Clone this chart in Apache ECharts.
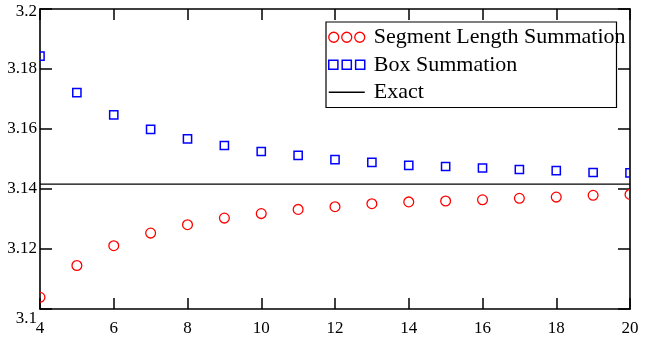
<!DOCTYPE html>
<html>
<head>
<meta charset="utf-8">
<script src="https://cdn.jsdelivr.net/npm/echarts@6/dist/echarts.min.js"></script>
<style>
html,body{margin:0;padding:0;background:#fff;}
#chart{width:655px;height:339px;}
</style>
</head>
<body>
<div id="chart"></div>
<script>
var nValues = [4, 5, 6, 7, 8, 9, 10, 11, 12, 13, 14, 15, 16, 17, 18, 19, 20];
var segmentValues = [3.1039, 3.1145, 3.1211, 3.1253, 3.1281, 3.1303, 3.1318, 3.1332, 3.1341, 3.1351, 3.1357, 3.1360, 3.1364, 3.1369, 3.1373, 3.1379, 3.1382];
var boxValues = [3.1843, 3.1721, 3.1647, 3.1599, 3.1567, 3.1545, 3.1525, 3.1512, 3.1498, 3.1489, 3.1479, 3.1475, 3.1470, 3.1465, 3.1461, 3.1455, 3.1454];
var exactValue = Math.PI;
var xTicks = [4, 6, 8, 10, 12, 14, 16, 18, 20];
var yTicks = [3.1, 3.12, 3.14, 3.16, 3.18, 3.2];
var seriesNames = ['Segment Length Summation', 'Box Summation', 'Exact'];

var segData = nValues.map(function (n, i) { return [n, segmentValues[i]]; });
var boxData = nValues.map(function (n, i) { return [n, boxValues[i]]; });
var exactData = [[nValues[0], exactValue], [nValues[nValues.length - 1], exactValue]];

var serif = '"Liberation Serif", "DejaVu Serif", serif';
var circlesIcon = 'path://M0,5.5a5,5 0 1,0 10,0a5,5 0 1,0 -10,0M13,5.5a5,5 0 1,0 10,0a5,5 0 1,0 -10,0M26,5.5a5,5 0 1,0 10,0a5,5 0 1,0 -10,0';
var squaresIcon = 'path://M1,1h8.5v8.5h-8.5zM13.5,1h8.5v8.5h-8.5zM26,1h8.5v8.5h-8.5z';
var lineIcon = 'path://M0,0h36v1.3h-36z';

var axisLineStyle = { color: '#000', width: 1.6 };

var chart = echarts.init(document.getElementById('chart'), null, { renderer: 'canvas' });
chart.setOption({
  animation: false,
  backgroundColor: '#fff',
  grid: { left: 40, right: 25, top: 9, bottom: 30, containLabel: false },
  legend: {
    orient: 'vertical',
    left: 326,
    top: 22,
    padding: [4, -9, 4, 2],
    itemGap: 5,
    itemWidth: 36,
    itemHeight: 11,
    backgroundColor: '#fff',
    borderColor: '#000',
    borderWidth: 1.2,
    borderRadius: 0,
    textStyle: { fontFamily: serif, fontSize: 22, color: '#000', padding: [0, 0, 0, 4], lineHeight: 22.5 },
    data: [
      { name: seriesNames[0], icon: circlesIcon, itemStyle: { color: 'rgba(0,0,0,0)', borderColor: '#ff0000', borderWidth: 1.3 } },
      { name: seriesNames[1], icon: squaresIcon, itemStyle: { color: 'rgba(0,0,0,0)', borderColor: '#0000ff', borderWidth: 1.5 } },
      { name: seriesNames[2], icon: lineIcon, itemStyle: { color: '#000', borderWidth: 0 } }
    ]
  },
  xAxis: [
    {
      type: 'value', min: 4, max: 20, interval: 2, position: 'bottom',
      axisLine: { show: true, onZero: false, lineStyle: axisLineStyle },
      axisTick: { show: true, inside: true, length: 11, lineStyle: { color: '#000', width: 1.5 } },
      axisLabel: { show: true, margin: 11, fontFamily: serif, fontSize: 17, color: '#000' },
      splitLine: { show: false }
    },
    {
      type: 'value', min: 4, max: 20, interval: 2, position: 'top',
      axisLine: { show: true, onZero: false, lineStyle: axisLineStyle },
      axisTick: { show: true, inside: true, length: 11, lineStyle: { color: '#000', width: 1.5 } },
      axisLabel: { show: false },
      splitLine: { show: false }
    }
  ],
  yAxis: [
    {
      type: 'value', min: 3.1, max: 3.2, interval: 0.02, position: 'left',
      axisLine: { show: true, onZero: false, lineStyle: axisLineStyle },
      axisTick: { show: true, inside: true, length: 12, lineStyle: { color: '#000', width: 1.5 } },
      axisLabel: {
        show: true, margin: 3, fontFamily: serif, fontSize: 17, color: '#000',
        formatter: function (v) {
          var s = String(+v.toFixed(2));
          if (Math.abs(v - yTicks[0]) < 1e-9) return '{low|' + s + '}';
          if (Math.abs(v - yTicks[yTicks.length - 1]) < 1e-9) return '{high|' + s + '}';
          return s;
        },
        rich: {
          low: { fontFamily: serif, fontSize: 17, color: '#000', padding: [19, 0, 0, 0] },
          high: { fontFamily: serif, fontSize: 17, color: '#000', padding: [5, 0, 0, 0] }
        }
      },
      splitLine: { show: false }
    },
    {
      type: 'value', min: 3.1, max: 3.2, interval: 0.02, position: 'right',
      axisLine: { show: true, onZero: false, lineStyle: axisLineStyle },
      axisTick: { show: true, inside: true, length: 12, lineStyle: { color: '#000', width: 1.5 } },
      axisLabel: { show: false },
      splitLine: { show: false }
    }
  ],
  series: [
    {
      name: seriesNames[2],
      type: 'line',
      data: exactData,
      symbol: 'none',
      lineStyle: { color: '#000', width: 1.3 },
      itemStyle: { color: '#000' },
      z: 1
    },
    {
      name: seriesNames[0],
      type: 'custom',
      clip: true,
      data: segData,
      encode: { x: 0, y: 1 },
      itemStyle: { color: '#ff0000' },
      renderItem: function (params, api) {
        var p = api.coord([api.value(0), api.value(1)]);
        return { type: 'circle', shape: { cx: p[0], cy: p[1], r: 4.9 },
          style: { fill: null, stroke: '#ff0000', lineWidth: 1.3 } };
      },
      z: 3
    },
    {
      name: seriesNames[1],
      type: 'custom',
      clip: true,
      data: boxData,
      encode: { x: 0, y: 1 },
      itemStyle: { color: '#0000ff' },
      renderItem: function (params, api) {
        var p = api.coord([api.value(0), api.value(1)]);
        var h = 4.1;
        return { type: 'rect', shape: { x: p[0] - h, y: p[1] - h, width: 2 * h, height: 2 * h },
          style: { fill: null, stroke: '#0000ff', lineWidth: 1.5 } };
      },
      z: 3
    }
  ]
});
</script>
</body>
</html>
